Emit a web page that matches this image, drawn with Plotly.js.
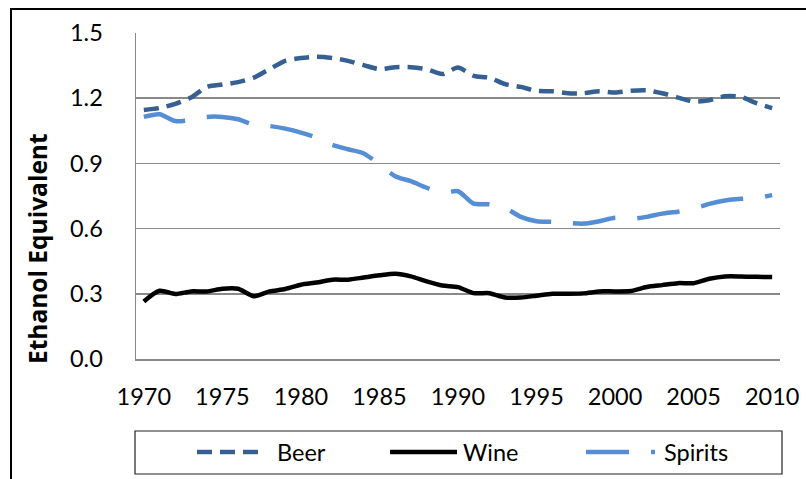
<!DOCTYPE html>
<html>
<head>
<meta charset="utf-8">
<script src="https://cdn.plot.ly/plotly-3.0.1.min.js"></script>
<style>
html,body{margin:0;padding:0;background:#fff;}
#chart{width:806px;height:479px;}
</style>
</head>
<body>
<div id="chart"></div>
<script>
const years = [1970,1971,1972,1973,1974,1975,1976,1977,1978,1979,1980,1981,1982,1983,1984,1985,1986,1987,1988,1989,1990,1991,1992,1993,1994,1995,1996,1997,1998,1999,2000,2001,2002,2003,2004,2005,2006,2007,2008,2009,2010];
const beer = [1.146,1.155,1.174,1.203,1.252,1.263,1.274,1.295,1.334,1.372,1.385,1.391,1.385,1.372,1.352,1.334,1.343,1.343,1.334,1.311,1.341,1.303,1.294,1.265,1.252,1.234,1.232,1.223,1.223,1.232,1.226,1.234,1.236,1.223,1.203,1.185,1.191,1.209,1.206,1.177,1.154];
const wine = [0.265,0.314,0.299,0.311,0.311,0.323,0.323,0.289,0.311,0.322,0.342,0.352,0.365,0.365,0.375,0.385,0.392,0.380,0.357,0.338,0.331,0.303,0.303,0.283,0.283,0.291,0.300,0.300,0.302,0.311,0.311,0.313,0.331,0.340,0.349,0.349,0.369,0.380,0.380,0.378,0.377];
const spirits = [1.114,1.126,1.095,1.100,1.114,1.114,1.103,1.077,1.072,1.060,1.042,1.018,0.986,0.965,0.946,0.895,0.841,0.818,0.788,0.765,0.772,0.715,0.712,0.695,0.654,0.634,0.631,0.626,0.623,0.634,0.650,0.645,0.654,0.669,0.678,0.691,0.714,0.729,0.737,0.741,0.754];
const tickYears = [1970,1975,1980,1985,1990,1995,2000,2005,2010];
const tickLabels = ["1970","1975","1980","1985","1990","1995","2000","2005","2010"];
const seriesNames = ["Beer","Wine","Spirits"];
const yTitle = "Ethanol Equivalent";

const FONT = "Lato, 'Open Sans', sans-serif";
const TITLE_FONT = "'Open Sans', Lato, sans-serif";
const beerColor = "#376092";
const spiritsColor = "#558ED5";
const wineColor = "#000000";

const traces = [
  {x: years, y: beer, name: seriesNames[0], mode: "lines", line: {color: beerColor, width: 4.5, dash: "15px,8px", shape: "spline", smoothing: 0.7}},
  {x: years, y: wine, name: seriesNames[1], mode: "lines", line: {color: wineColor, width: 4.5, shape: "spline", smoothing: 0.7}},
  {x: years, y: spirits, name: seriesNames[2], mode: "lines", line: {color: spiritsColor, width: 4.5, dash: "43px,22px", shape: "spline", smoothing: 0.7}}
];

// plot area: x 136..780, y 33..359
const W = 644, H = 326, L = 136, T = 33;
const px = v => (v - L) / W;
const py = v => (T + H - v) / H;

const legY = py(452);
const shapes = [
  {type: "rect", xref: "paper", yref: "paper", x0: px(11), x1: px(812), y0: py(490), y1: py(9), line: {color: "#000", width: 2}, fillcolor: "rgba(0,0,0,0)"},
  {type: "rect", xref: "paper", yref: "paper", x0: px(135), x1: px(782), y0: py(474), y1: py(431), line: {color: "#222", width: 1.2}, fillcolor: "rgba(0,0,0,0)"},
  {type: "line", xref: "paper", yref: "paper", x0: px(197), x1: px(262), y0: legY, y1: legY, line: {color: beerColor, width: 4.5, dash: "15px,8px"}},
  {type: "line", xref: "paper", yref: "paper", x0: px(390), x1: px(457), y0: legY, y1: legY, line: {color: wineColor, width: 4.5}},
  {type: "line", xref: "paper", yref: "paper", x0: px(586), x1: px(655), y0: legY, y1: legY, line: {color: spiritsColor, width: 4.5, dash: "43px,22px"}}
];
const legendX = [275, 461, 662];
const annotations = seriesNames.map((n, i) => ({
  xref: "paper", yref: "paper", x: px(legendX[i]), y: legY, xanchor: "left", yanchor: "middle",
  text: n, showarrow: false, font: {family: FONT, size: 23.5, color: "#000"}
}));
annotations.push({
  xref: "paper", yref: "paper", x: px(37), y: py(248), xanchor: "center", yanchor: "middle",
  textangle: -90, text: "<b>" + yTitle + "</b>", showarrow: false,
  font: {family: TITLE_FONT, size: 24.5, color: "#000"}
});

const layout = {
  width: 806, height: 479,
  margin: {l: L, r: 806 - 780, t: T, b: 479 - 359},
  paper_bgcolor: "#fff", plot_bgcolor: "#fff",
  showlegend: false,
  font: {family: FONT, size: 23.5, color: "#000"},
  xaxis: {
    type: "linear", range: [1969.5, 2010.5], tickvals: tickYears, ticktext: tickLabels,
    showgrid: false, zeroline: false, showline: true, linecolor: "#898989", linewidth: 1.5,
    ticks: "", ticklabelstandoff: 16, tickfont: {family: FONT, size: 23.5, color: "#000"}
  },
  yaxis: {
    range: [0, 1.5001], tick0: 0, dtick: 0.3, tickformat: ".1f",
    showgrid: true, gridcolor: "#898989", gridwidth: 1.5, zeroline: false,
    showline: true, linecolor: "#898989", linewidth: 1.5,
    ticks: "", ticklabelstandoff: 27, tickfont: {family: FONT, size: 23.5, color: "#000"}
  },
  shapes: shapes,
  annotations: annotations
};

Plotly.newPlot("chart", traces, layout, {staticPlot: true, displayModeBar: false});
</script>
</body>
</html>
